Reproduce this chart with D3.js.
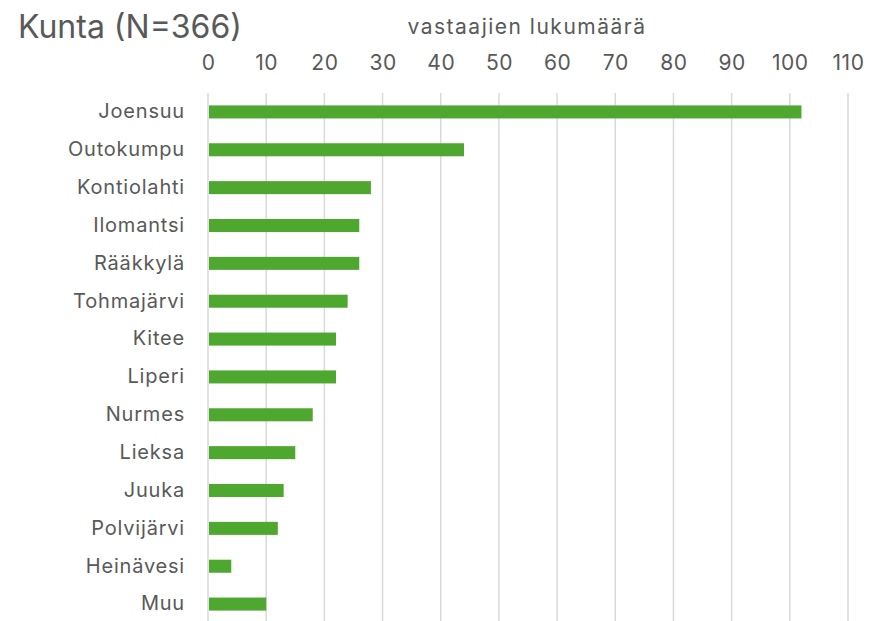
<!DOCTYPE html>
<html>
<head>
<meta charset="utf-8">
<script src="https://cdn.jsdelivr.net/npm/d3@7"></script>
<style>
  body { margin: 0; background: #fff; }
  svg text { font-family: Inter, "Open Sans", sans-serif; fill: #595959; }
</style>
</head>
<body>
<div id="chart"></div>
<script>
// Data
const kunnat = ['Joensuu','Outokumpu','Kontiolahti','Ilomantsi','Rääkkylä','Tohmajärvi','Kitee','Liperi','Nurmes','Lieksa','Juuka','Polvijärvi','Heinävesi','Muu'];
const vastaajat = [102, 44, 28, 26, 26, 24, 22, 22, 18, 15, 13, 12, 4, 10];
const tickArvot = [0,10,20,30,40,50,60,70,80,90,100,110];

const W = 871, H = 621;
let margin = {top: 93, right: 23, bottom: -2, left: 208};
let width = W - margin.left - margin.right,
    height = H - margin.top - margin.bottom;

let svg = d3.select('#chart').append('svg')
    .attr('width', W).attr('height', H);

let chart = svg.append('g')
    .attr('transform', 'translate(' + margin.left + ',' + margin.top + ')');

let data = kunnat.map((k, i) => ({ kunta: k, arvo: vastaajat[i] }));

// Eje X
let x = d3.scaleLinear().domain([0, 110]).range([0, width]);
// Eje Y
let y = d3.scaleBand().domain(kunnat).range([0, height])
    .paddingInner(0.656).paddingOuter(0.328);

// gridlines
chart.append('g').selectAll('line')
    .data(tickArvot).enter().append('line')
    .attr('x1', d => x(d)).attr('x2', d => x(d))
    .attr('y1', 0).attr('y2', height)
    .attr('stroke', '#d9d9d9').attr('stroke-width', 1.5);

// tick labels on top
let xAxis = d3.axisTop(x).tickValues(tickArvot).tickSize(0).tickPadding(0);
let gx = chart.append('g')
    .attr('transform', 'translate(0,-23)')
    .call(xAxis);
gx.select('.domain').remove();
gx.selectAll('text').style('font-size', '21px').style('letter-spacing', '0.5px').attr('fill', '#595959');

// category labels
let yAxis = d3.axisLeft(y).tickSize(0).tickPadding(23);
let gy = chart.append('g').call(yAxis);
gy.select('.domain').remove();
gy.selectAll('text').style('font-size', '20px').style('letter-spacing', '0.8px').attr('fill', '#595959');

// bars
chart.append('g').selectAll('rect')
    .data(data).enter().append('rect')
    .attr('x', x(0) + 1)
    .attr('y', d => y(d.kunta))
    .attr('width', d => x(d.arvo) - x(0) - 1)
    .attr('height', y.bandwidth())
    .attr('fill', '#4ea72e');

// titles
svg.append('text')
    .attr('x', 18).attr('y', 38)
    .style('font-size', '32px')
    .text('Kunta (N=366)');

svg.append('text')
    .attr('x', 527).attr('y', 34)
    .attr('text-anchor', 'middle')
    .style('font-size', '21px')
    .style('letter-spacing', '1.5px')
    .text('vastaajien lukumäärä');
</script>
</body>
</html>
